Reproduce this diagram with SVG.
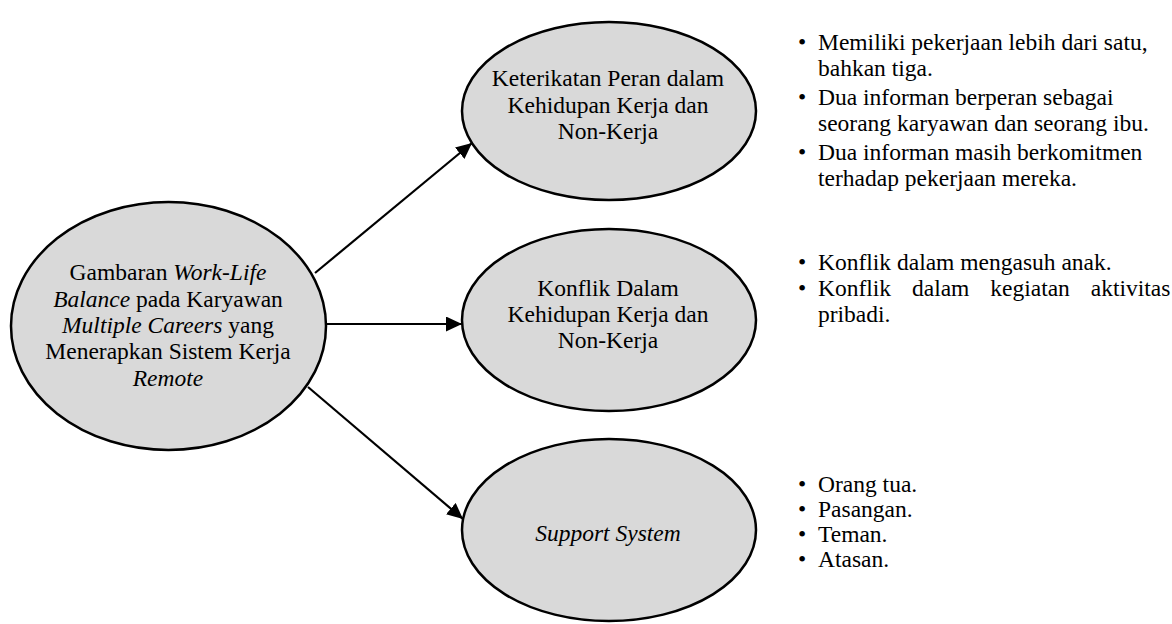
<svg xmlns="http://www.w3.org/2000/svg" width="1172" height="624" viewBox="0 0 1172 624">
<style>
text{font-family:"Liberation Serif","Times New Roman",serif;font-size:23.5px;fill:#000}
.c{text-anchor:middle}
.node{fill:#d9d9d9;stroke:#000;stroke-width:2.5}
.edge{stroke:#000;stroke-width:2.2;fill:none;marker-end:url(#ah)}
</style>
<defs>
<marker id="ah" markerUnits="userSpaceOnUse" markerWidth="18" markerHeight="16" refX="16" refY="7.5" orient="auto">
<path d="M0,0 L16,7.5 L0,15 Z" fill="#000"/>
</marker>
</defs>
<rect width="1172" height="624" fill="#fff"/>
<g id="connectors">
<line class="edge" x1="315" y1="273" x2="472" y2="143"/>
<line class="edge" x1="327" y1="324" x2="462" y2="324"/>
<line class="edge" x1="308" y1="387" x2="463" y2="519"/>
</g>
<g id="main">
<ellipse class="node" cx="168.5" cy="326" rx="157.5" ry="124"/>
<text class="c" x="168" y="280">Gambaran <tspan font-style="italic">Work-Life</tspan></text>
<text class="c" x="168" y="307"><tspan font-style="italic">Balance</tspan> pada Karyawan</text>
<text class="c" x="168" y="333"><tspan font-style="italic">Multiple Careers</tspan> yang</text>
<text class="c" x="168" y="359">Menerapkan Sistem Kerja</text>
<text class="c" x="168" y="386" font-style="italic">Remote</text>
</g>
<g id="n1">
<ellipse class="node" cx="609" cy="111" rx="147" ry="89"/>
<text class="c" x="608" y="86">Keterikatan Peran dalam</text>
<text class="c" x="608" y="113">Kehidupan Kerja dan</text>
<text class="c" x="608" y="139">Non-Kerja</text>
</g>
<g id="n2">
<ellipse class="node" cx="609" cy="320" rx="147" ry="91"/>
<text class="c" x="608" y="296">Konflik Dalam</text>
<text class="c" x="608" y="322">Kehidupan Kerja dan</text>
<text class="c" x="608" y="348">Non-Kerja</text>
</g>
<g id="n3">
<ellipse class="node" cx="609" cy="530" rx="147" ry="91"/>
<text class="c" x="608" y="541" font-style="italic">Support System</text>
</g>
<g id="list1">
<text x="798" y="50">•</text><text x="818" y="50">Memiliki pekerjaan lebih dari satu,</text>
<text x="818" y="76">bahkan tiga.</text>
<text x="798" y="105">•</text><text x="818" y="105">Dua informan berperan sebagai</text>
<text x="818" y="131">seorang karyawan dan seorang ibu.</text>
<text x="798" y="160">•</text><text x="818" y="160">Dua informan masih berkomitmen</text>
<text x="818" y="186">terhadap pekerjaan mereka.</text>
</g>
<g id="list2">
<text x="798" y="270">•</text><text x="818" y="270">Konflik dalam mengasuh anak.</text>
<text x="798" y="296">•</text><text x="818" y="296" word-spacing="15">Konflik dalam kegiatan aktivitas</text>
<text x="818" y="322">pribadi.</text>
</g>
<g id="list3">
<text x="798" y="492">•</text><text x="818" y="492">Orang tua.</text>
<text x="798" y="517">•</text><text x="818" y="517">Pasangan.</text>
<text x="798" y="542">•</text><text x="818" y="542">Teman.</text>
<text x="798" y="567">•</text><text x="818" y="567">Atasan.</text>
</g>
</svg>
